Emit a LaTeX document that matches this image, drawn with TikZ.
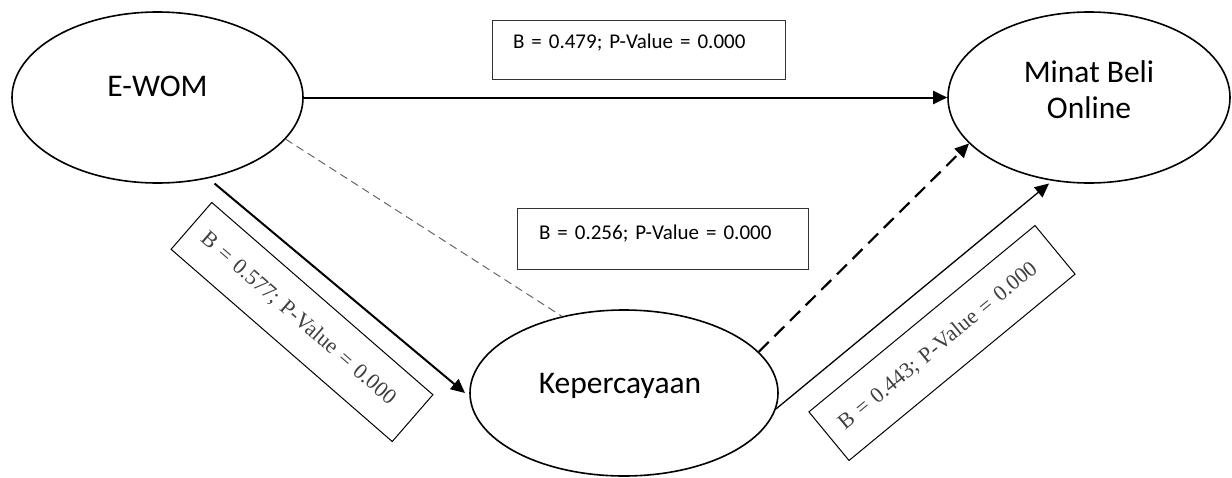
\documentclass[tikz,border=0pt]{standalone}
\usepackage{fontspec}
\setmainfont{Carlito}
\newfontfamily\lblserif{Liberation Serif}
\usetikzlibrary{arrows.meta,shapes.geometric,calc}
\tikzset{
  varnode/.style={draw=black, line width=1.6pt, ellipse, inner sep=0pt,
    font=\fontsize{31.5}{36}\selectfont},
  flatlbl/.style={draw=black!80, line width=1pt, inner ysep=0pt, align=left,
    font=\fontsize{21}{25}\selectfont},
  rotlbl/.style={draw=black, line width=1pt, inner ysep=0pt, align=left,
    inner xsep=16pt, text width=261pt, minimum width=293pt,
    text=black!75, font=\lblserif\fontsize{22}{26}\selectfont},
  tip/.style={-{Triangle[length=14pt,width=13pt]}},
  mainarrow/.style={tip, line width=2pt},
  thinarrow/.style={tip, line width=1.3pt},
  dasharrow/.style={tip, line width=2.2pt, dash pattern=on 14pt off 8pt},
  grayline/.style={line width=1pt, draw=black!60, dash pattern=on 8pt off 5pt}
}
\begin{document}
\begin{tikzpicture}[x=1pt,y=-1pt]
\useasboundingbox (0,0) rectangle (1232,477);

% variables
\node[varnode, minimum width=291pt, minimum height=171pt] (ewom) at (157.5,97.5)
  {\raisebox{1pt}[0pt][0pt]{E-WOM}};
\node[varnode, minimum width=282pt, minimum height=171pt] (minat) at (1089,97.5)
  {\raisebox{-20.8pt}[0pt][0pt]{\begin{tabular}[b]{@{}c@{}}Minat Beli\\Online\end{tabular}}};
\node[varnode, minimum width=308pt, minimum height=166pt] (kep) at (624,393)
  {\raisebox{0pt}[0pt][0pt]{\hspace*{-8pt}Kepercayaan}};

% connectors
\draw[mainarrow] (ewom.east) -- (minat.west);
\draw[mainarrow] ($(ewom.center)+(57,86)$) -- ($(kep.center)+(-159,0)$);
\draw[grayline] (ewom.-18.8) -- (kep.129.6);
\draw[dasharrow] (kep.17) -- ($(minat.center)+(-120,46)$);
\draw[thinarrow] (kep.-6) -- ($(minat.center)+(-40,86)$);

% labels
\node[flatlbl, inner xsep=21pt, text width=251pt, text height=28.5pt, text depth=30.5pt]
  (l1) at (638.5,49.5) {\mbox{B = 0.479; P-Value = 0.000}};
\node[flatlbl, inner xsep=22pt, text width=247pt, text height=31.5pt, text depth=29.5pt]
  (l2) at (662.5,238.5) {\mbox{B = 0.256; P-Value = 0.000}};
\node[rotlbl, minimum height=62pt, rotate=-41] (l3) at (302,322)
  {\mbox{B = 0.577; P-Value = 0.000}};
\node[rotlbl, minimum height=63pt, rotate=39.5] (l4) at (942,343)
  {\mbox{B = 0.443; P-Value = 0.000}};
\end{tikzpicture}
\end{document}
